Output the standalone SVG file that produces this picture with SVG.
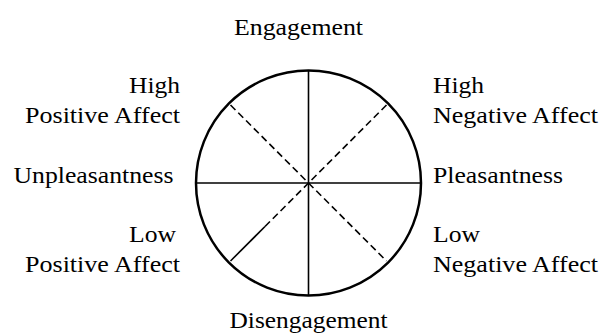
<svg xmlns="http://www.w3.org/2000/svg" width="601" height="336" viewBox="0 0 601 336">
<style>
text{font-family:"Liberation Serif","Times New Roman",serif;font-size:23px;fill:#000}
.l{text-anchor:end}
.m{text-anchor:middle}
.ax{stroke:#000;stroke-width:1.6;fill:none}
.d{stroke:#000;stroke-width:1.6;stroke-dasharray:7 4;fill:none}
</style>
<rect width="601" height="336" fill="#fff"/>
<g id="connectors">
<line class="ax" x1="308.5" y1="70" x2="308.5" y2="296"/>
<line class="ax" x1="196" y1="183" x2="421" y2="183"/>
<line class="d" x1="230.5" y1="105" x2="308.5" y2="183"/>
<line class="d" x1="308.5" y1="183" x2="386.5" y2="261"/>
<line class="d" x1="386.5" y1="105" x2="308.5" y2="183"/>
<line class="ax" x1="230.5" y1="261" x2="265" y2="226.5"/>
<line class="d" x1="265" y1="226.5" x2="308.5" y2="183"/>
</g>
<g id="circle"><circle cx="308.5" cy="183" r="112.5" fill="none" stroke="#000" stroke-width="2.5"/></g>
<g id="engagement"><text class="m" x="298.5" y="35" textLength="129" lengthAdjust="spacingAndGlyphs">Engagement</text></g>
<g id="hpa"><text class="l" x="180" y="93" textLength="51" lengthAdjust="spacingAndGlyphs">High</text><text class="l" x="180" y="122.5" textLength="155" lengthAdjust="spacingAndGlyphs">Positive Affect</text></g>
<g id="hna"><text x="433" y="93" textLength="51" lengthAdjust="spacingAndGlyphs">High</text><text x="433" y="122.5" textLength="165" lengthAdjust="spacingAndGlyphs">Negative Affect</text></g>
<g id="unpleasantness"><text class="l" x="173.5" y="183" textLength="160" lengthAdjust="spacingAndGlyphs">Unpleasantness</text></g>
<g id="pleasantness"><text x="433" y="183" textLength="130" lengthAdjust="spacingAndGlyphs">Pleasantness</text></g>
<g id="lpa"><text class="l" x="176" y="241.5" textLength="47" lengthAdjust="spacingAndGlyphs">Low</text><text class="l" x="180" y="271.5" textLength="155" lengthAdjust="spacingAndGlyphs">Positive Affect</text></g>
<g id="lna"><text x="433" y="241.5" textLength="47" lengthAdjust="spacingAndGlyphs">Low</text><text x="433" y="271.5" textLength="165" lengthAdjust="spacingAndGlyphs">Negative Affect</text></g>
<g id="disengagement"><text class="m" x="308.5" y="328" textLength="158" lengthAdjust="spacingAndGlyphs">Disengagement</text></g>
</svg>
